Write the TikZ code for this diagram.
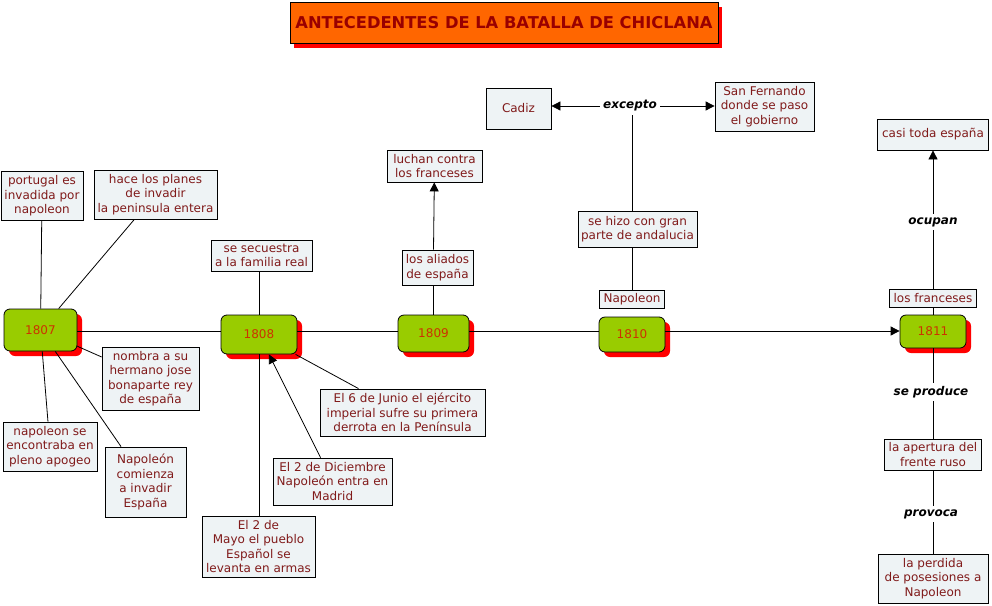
\documentclass[tikz,border=0pt]{standalone}
\usepackage{fontspec}
\setmainfont{DejaVu Sans}
\usetikzlibrary{arrows.meta, positioning, shadows}
\definecolor{cmTitle}{HTML}{FF6600}
\definecolor{cmTitleTxt}{HTML}{990000}
\definecolor{cmYear}{HTML}{99CC00}
\definecolor{cmYearTxt}{HTML}{CC3300}
\definecolor{cmBox}{HTML}{EEF3F5}
\definecolor{cmTxt}{HTML}{801A1A}
\definecolor{cmShadow}{HTML}{FF0000}

\begin{document}
\begin{tikzpicture}[
  x=1pt, y=-1pt, line width=0.8pt,
  every node/.style={font=\fontsize{12}{14.5}\selectfont},
  titlebox/.style={draw, fill=cmTitle, text=cmTitleTxt, minimum width=428pt, minimum height=41pt,
               font=\fontsize{16.3}{18}\selectfont\bfseries,
               drop shadow={shadow xshift=4pt, shadow yshift=-4pt, fill=cmShadow, opacity=1}},
  yearbox/.style={draw, fill=cmYear, text=cmYearTxt, rounded corners=6pt,
               drop shadow={shadow xshift=5pt, shadow yshift=-5pt, fill=cmShadow, opacity=1}},
  conbox/.style={draw, fill=cmBox, text=cmTxt, align=center, inner xsep=3pt, inner ysep=2pt},
  linklbl/.style={font=\fontsize{12}{14}\selectfont\bfseries\itshape, inner sep=3pt},
  arr/.style={-{Triangle[length=9pt,width=9pt]}}
]
  \useasboundingbox (0,0) rectangle (992,605);

  \node[titlebox] (title) at (504,23) {ANTECEDENTES DE LA BATALLA DE CHICLANA};

  % years
  \coordinate (tl) at (0,331);
  \node[yearbox, minimum width=73pt, minimum height=42pt] (y1807) at (40.5,330) {1807};
  \node[yearbox, minimum width=76pt, minimum height=39pt] (y1808) at (259,334.5) {1808};
  \node[yearbox, minimum width=71pt, minimum height=37pt] (y1809) at (433.5,333.5) {1809};
  \node[yearbox, minimum width=66pt, minimum height=35pt] (y1810) at (632,334.5) {1810};
  \node[yearbox, minimum width=66pt, minimum height=33pt] (y1811) at (933,331.5) {1811};

  % 1807
  \node[conbox, minimum width=82pt, minimum height=49pt] (portugal) at (42,196) {portugal es\\invadida por\\napoleon};
  \node[conbox, minimum width=123pt, minimum height=49pt] (planes) at (155.5,194.5) {hace los planes\\de invadir\\la peninsula entera};
  \node[conbox, minimum width=97pt, minimum height=63pt] (nombra) at (150.5,378.5) {nombra a su\\hermano jose\\bonaparte rey\\de españa};
  \node[conbox, minimum width=94pt, minimum height=49pt] (apogeo) at (50,446.5) {napoleon se\\encontraba en\\pleno apogeo};
  \node[conbox, minimum width=81pt, minimum height=70pt] (comienza) at (145.5,482) {Napoleón\\comienza\\a invadir\\España};

  % 1808
  \node[conbox, minimum width=101pt, minimum height=31pt] (secuestra) at (261.5,255.5) {se secuestra\\a la familia real};
  \node[conbox, minimum width=165pt, minimum height=47pt] (junio) at (402.5,412.5) {El 6 de Junio el ejército\\imperial sufre su primera\\derrota en la Península};
  \node[conbox, minimum width=119pt, minimum height=47pt] (diciembre) at (332.5,481.5) {El 2 de Diciembre\\Napoleón entra en\\Madrid};
  \node[conbox, minimum width=113pt, minimum height=61pt] (mayo) at (258.5,546.5) {El 2 de\\Mayo el pueblo\\Español se\\levanta en armas};

  % 1809
  \node[conbox, minimum width=71pt, minimum height=35pt] (aliados) at (437.5,267.5) {los aliados\\de españa};
  \node[conbox, minimum width=95pt, minimum height=32pt] (luchan) at (434.5,166) {luchan contra\\los franceses};

  % 1810
  \node[conbox, minimum width=65pt, minimum height=18pt] (napo) at (632,299) {Napoleon};
  \node[conbox, minimum width=119pt, minimum height=36pt] (sehizo) at (637.5,229) {se hizo con gran\\parte de andalucia};
  \node[linklbl] (excepto) at (630,106) {excepto};
  \node[conbox, minimum width=65pt, minimum height=41pt] (cadiz) at (518.5,108.5) {Cadiz};
  \node[conbox, minimum width=99pt, minimum height=49pt] (sanfer) at (764.5,106.5) {San Fernando\\donde se paso\\el gobierno};

  % 1811
  \node[conbox, minimum width=87pt, minimum height=18pt] (franceses) at (933,298) {los franceses};
  \node[linklbl] (ocupan) at (933,222) {ocupan};
  \node[conbox, minimum width=111pt, minimum height=31pt] (casi) at (933,134.5) {casi toda españa};
  \node[linklbl] (produce) at (931,392) {se produce};
  \node[conbox, minimum width=97pt, minimum height=31pt] (apertura) at (933,454.5) {la apertura del\\frente ruso};
  \node[linklbl] (provoca) at (931,514) {provoca};
  \node[conbox, minimum width=110pt, minimum height=49pt] (perdida) at (933,578.5) {la perdida\\de posesiones a\\Napoleon};

  % timeline
  \draw (y1807.east |- tl) -- (y1808.west |- tl);
  \draw (y1808.east |- tl) -- (y1809.west |- tl);
  \draw (y1809.east |- tl) -- (y1810.west |- tl);
  \draw[arr] (y1810.east |- tl) -- (y1811.west |- tl);

  \draw (portugal) -- (y1807);
  \draw (planes) -- (y1807);
  \draw (y1807) -- (nombra);
  \draw (y1807) -- (apogeo);
  \draw (y1807) -- (comienza);

  \draw (secuestra.south -| y1808) -- (y1808);
  \draw (y1808) -- (junio);
  \draw[arr] (diciembre) -- (y1808);
  \draw (y1808) -- (mayo.north -| y1808);

  \draw (y1809) -- (y1809 |- aliados.south);
  \draw[arr] (aliados.north -| y1809) -- (luchan);

  \draw (napo) -- (napo |- sehizo.south);
  \draw (sehizo.north -| napo) -- (napo |- excepto.south);
  \draw[arr] (excepto.west) -- (excepto.west -| cadiz.east);
  \draw[arr] (excepto.east) -- (excepto.east -| sanfer.west);

  \draw (y1811) -- (franceses);
  \draw (franceses) -- (ocupan);
  \draw[arr] (ocupan) -- (casi);
  \draw (y1811) -- (y1811 |- produce.north);
  \draw (y1811 |- produce.south) -- (apertura);
  \draw (apertura) -- (apertura |- provoca.north);
  \draw (apertura |- provoca.south) -- (perdida);
\end{tikzpicture}
\end{document}
